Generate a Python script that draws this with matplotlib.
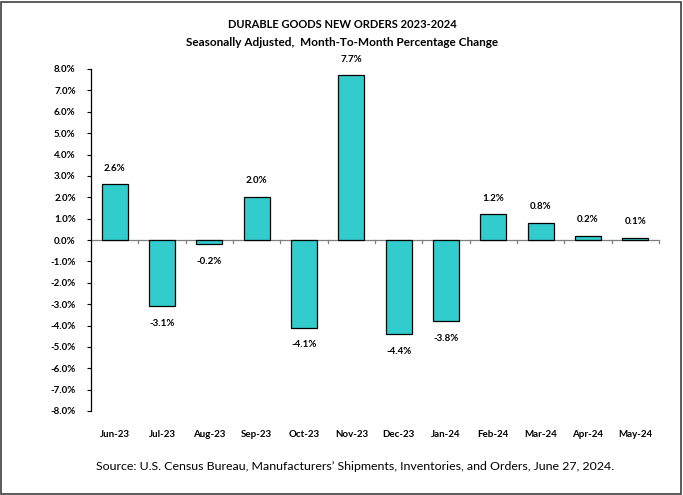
import matplotlib
matplotlib.use("Agg")
import matplotlib.pyplot as plt
from matplotlib.patches import Rectangle

months = ["Jun-23", "Jul-23", "Aug-23", "Sep-23", "Oct-23", "Nov-23",
          "Dec-23", "Jan-24", "Feb-24", "Mar-24", "Apr-24", "May-24"]
values = [2.6, -3.1, -0.2, 2.0, -4.1, 7.7, -4.4, -3.8, 1.2, 0.8, 0.2, 0.1]
yticks = [-8, -7, -6, -5, -4, -3, -2, -1, 0, 1, 2, 3, 4, 5, 6, 7, 8]

plt.rcParams['font.family'] = ['Lato', 'DejaVu Sans']

fig = plt.figure(figsize=(6.83, 4.95), dpi=100)
ax = fig.add_axes([91/683, 1-411/495, (659-91)/683, (411-69)/495])

x = list(range(len(months)))
ax.bar(x, values, width=0.55, color="#33CCCC", edgecolor="black", linewidth=0.9, zorder=3)

ax.set_xlim(-0.5, len(months) - 0.5)
ax.set_ylim(-8, 8)
ax.set_yticks(yticks)
ax.set_yticklabels([f"{v:.1f}%" for v in yticks], fontsize=7, fontweight="bold")
ax.set_xticks(x)
ax.set_xticklabels(months, fontsize=7, fontweight="bold")
ax.tick_params(axis="x", length=0, pad=14)
ax.tick_params(axis="y", length=3, direction="out", width=0.8, pad=8)

for s in ["top", "right", "bottom"]:
    ax.spines[s].set_visible(False)
ax.spines["left"].set_linewidth(0.9)
ax.axhline(0, color="#7f7f7f", linewidth=0.9, zorder=2)
for i in range(len(months)):
    ax.plot([i + 0.5, i + 0.5], [0, -0.14], color="#7f7f7f", linewidth=0.9, zorder=2, clip_on=False)

for xi, v in zip(x, values):
    if v >= 0:
        ax.text(xi, v + 0.55, f"{v:.1f}%", ha="center", va="bottom", fontsize=7, fontweight="bold")
    else:
        ax.text(xi, v - 0.6, f"{v:.1f}%", ha="center", va="top", fontsize=7, fontweight="bold")

fig.text(342/683, 1-25/495, "DURABLE GOODS NEW ORDERS 2023-2024", ha="center", va="center",
         fontsize=8, fontweight="bold")
fig.text(342/683, 1-42/495, "Seasonally Adjusted,  Month-To-Month Percentage Change", ha="center",
         va="center", fontsize=8.5, fontweight="bold")
fig.text(355/683, 1-466/495, "Source: U.S. Census Bureau, Manufacturers\u2019 Shipments, Inventories, and Orders, June 27, 2024.",
         ha="center", va="center", fontsize=8.9)

fig.patches.append(Rectangle((1/683, 1/495), 1-3/683, 1-3/495, transform=fig.transFigure,
                             fill=False, edgecolor="#404040", linewidth=1.2))

fig.savefig("out.png", dpi=100)
